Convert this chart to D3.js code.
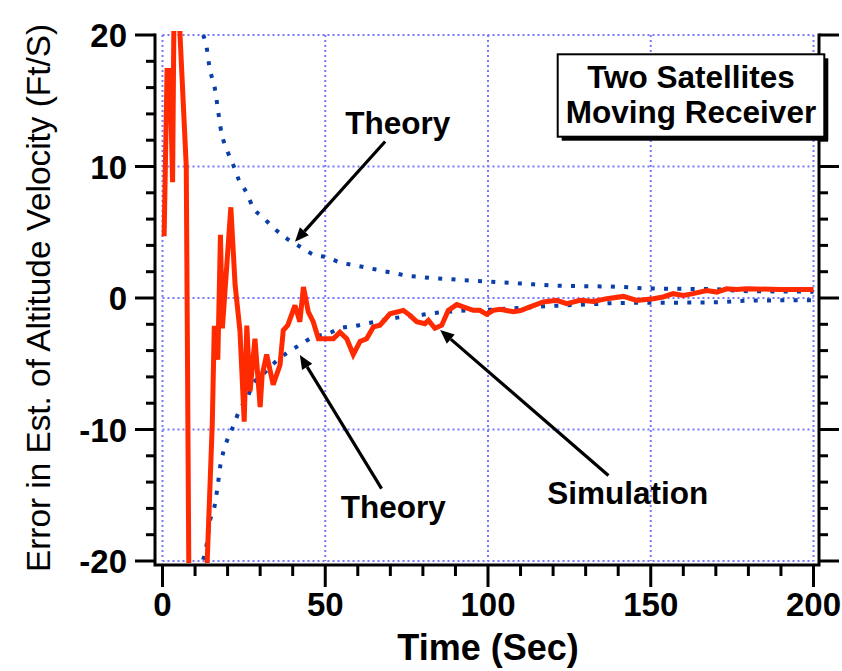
<!DOCTYPE html>
<html>
<head>
<meta charset="utf-8">
<script src="https://cdn.jsdelivr.net/npm/d3@7/dist/d3.min.js"></script>
<style>
  html, body { margin: 0; padding: 0; background: #fff; }
  svg { display: block; font-family: "Liberation Sans", Arial, Helvetica, sans-serif; }
</style>
</head>
<body>
<svg id="chart" width="842" height="671"></svg>
<script>
// ---- data ----------------------------------------------------------------
// Theoretical error envelope (upper and lower bounds), ft/s
const theoryTime  = [12.5, 13.6, 14.4, 16.1, 17.0, 17.8, 18.7, 20.2, 22.0, 23.5, 26.0, 27.7, 30.9, 34.2,
                     38.3, 42.3, 46.4, 50.5, 54.6, 58.7, 62.8, 66.9, 71.0, 75.1, 79.2, 83.3, 90, 100,
                     110, 120, 130, 140, 150, 160, 170, 180, 190, 200];
const theoryUpper = [20.0, 19.0, 17.6, 15.9, 14.4, 13.0, 12.0, 11.0, 9.95, 8.95, 7.94, 6.93, 6.13, 5.32,
                     4.5, 3.9, 3.3, 3.1, 2.7, 2.5, 2.3, 2.1, 1.9, 1.7, 1.6, 1.5, 1.4, 1.25,
                     1.1, 0.95, 0.9, 0.85, 0.72, 0.7, 0.66, 0.52, 0.5, 0.48];
const theoryLower = [-19.9, -18.7, -17.2, -15.7, -14.2, -12.7, -11.7, -10.6, -9.6, -8.6, -7.6, -6.6, -5.8, -4.97,
                     -4.16, -3.56, -2.95, -2.75, -2.3, -2.15, -1.94, -1.74, -1.54, -1.4, -1.3, -1.15, -1.0, -0.9,
                     -0.75, -0.6, -0.5, -0.38, -0.36, -0.35, -0.33, -0.2, -0.18, -0.17];

// Simulated estimation error, ft/s
const simTime  = [0.5, 1.4, 2.3, 3.1, 3.8, 5.0, 7.3, 8.2, 13.0, 15.3, 15.9, 16.7, 17.0, 17.8, 18.4,
                  21.0, 22.3, 23.8, 25.1, 25.9, 26.9, 28.4, 30.0, 30.6, 32.0, 34.0, 36.1, 37.1, 38.5,
                  40.7, 42.2, 43.3, 44.8, 46.3, 47.9, 52.5, 54.5, 56.6, 58.6, 60.7, 62.7, 64.8, 66.8,
                  69.9, 74.0, 76.0, 78.1, 80.6, 81.7, 83.7, 85.8, 87.8, 90.4, 92.4, 95.5, 97.5, 99.6,
                  101.6, 103.7, 107.8, 110.0, 112.9, 117.0, 121.1, 124.2, 128.3, 132.4, 136.5, 141.6,
                  145.7, 150.8, 153.8, 156.9, 160.0, 163.0, 167.2, 170.3, 173.3, 176.4, 179.5, 189.7, 200];
const simValue = [4.7, 17.3, 17.3, 8.8, 30, 22, 10, -25, -25, -9.5, -2.3, -2.3, -4.7, 4.8, -2.3,
                  6.9, 1.0, -2.5, -9.4, -2.1, -7.1, -3.1, -8.3, -5.9, -4.3, -6.6, -5.1, -2.45, -2.07,
                  -0.56, -1.8, 0.83, -1.06, -1.8, -3.1, -3.1, -2.6, -3.1, -4.3, -3.3, -3.1, -2.2, -2.07,
                  -1.2, -0.94, -1.32, -1.8, -1.95, -1.7, -2.3, -2.07, -0.94, -0.5, -0.68, -0.94, -0.94, -1.25,
                  -0.94, -0.85, -1.05, -0.95, -0.68, -0.3, -0.18, -0.43, -0.18, -0.26, -0.05, 0.12,
                  -0.18, -0.05, 0.08, 0.33, 0.2, 0.33, 0.57, 0.45, 0.7, 0.65, 0.7, 0.65, 0.65];

// Axis ticks
const xMajorTicks = [0, 50, 100, 150, 200];
const xMinorTicks = d3.range(0, 201, 10);
const yMajorTicks = [-20, -10, 0, 10, 20];
const yMinorTicks = d3.range(-20, 21, 2);

// Annotation text
const xTitle = "Time (Sec)";
const yTitle = "Error in Est. of Altitude Velocity (Ft/S)";
const boxLines = ["Two Satellites", "Moving Receiver"];

// ---- layout --------------------------------------------------------------
const svg = d3.select("#chart");
const x = d3.scaleLinear().domain([0, 200]).range([162.5, 813.5]);
const y = d3.scaleLinear().domain([-20, 20]).range([561, 35]);

const axisLeftX = 155, axisRightX = 819, axisBottomY = 565, axisTopY = 35;
const gridColor = "#7878ff";
const theoryColor = "#0a3ea8";
const simColor = "#ff2a00";

// clip for the data
svg.append("defs").append("clipPath").attr("id", "plotClip")
  .append("rect").attr("x", axisLeftX).attr("y", 31).attr("width", axisRightX - axisLeftX).attr("height", 532);

// ---- grid ----------------------------------------------------------------
const grid = svg.append("g").attr("stroke", gridColor).attr("stroke-width", 2)
  .attr("stroke-dasharray", "2,3").attr("fill", "none");
grid.selectAll("line.v").data(xMajorTicks).join("line").attr("class", "v")
  .attr("x1", d => x(d)).attr("x2", d => x(d)).attr("y1", y(20)).attr("y2", y(-20));
grid.selectAll("line.h").data(yMajorTicks).join("line").attr("class", "h")
  .attr("x1", x(0)).attr("x2", x(200)).attr("y1", d => y(d)).attr("y2", d => y(d));

// ---- axes ----------------------------------------------------------------
const axes = svg.append("g").attr("stroke", "#000").attr("stroke-width", 3).attr("fill", "none");
axes.append("path").attr("d", `M${axisLeftX},${axisTopY}V${axisBottomY}H${axisRightX}V${axisTopY}`)
  .attr("stroke-linejoin", "miter").attr("stroke-linecap", "square");
// left ticks
axes.selectAll("line.yl").data(yMinorTicks).join("line").attr("class", "yl")
  .attr("x1", d => axisLeftX - (d % 10 === 0 ? 20 : 9)).attr("x2", axisLeftX)
  .attr("y1", d => y(d)).attr("y2", d => y(d));
// right ticks
axes.selectAll("line.yr").data(yMinorTicks).join("line").attr("class", "yr")
  .attr("x1", axisRightX).attr("x2", d => axisRightX + (d % 10 === 0 ? 20 : 9))
  .attr("y1", d => y(d)).attr("y2", d => y(d));
// bottom ticks
axes.selectAll("line.xb").data(xMinorTicks).join("line").attr("class", "xb")
  .attr("x1", d => x(d)).attr("x2", d => x(d))
  .attr("y1", axisBottomY).attr("y2", d => axisBottomY + (d % 50 === 0 ? 22 : 11));

// tick labels
svg.append("g").selectAll("text").data(xMajorTicks).join("text")
  .attr("x", d => x(d)).attr("y", 616).attr("text-anchor", "middle")
  .attr("font-size", 33).attr("font-weight", "bold").text(d => d);
svg.append("g").selectAll("text").data(yMajorTicks).join("text")
  .attr("x", 127).attr("y", d => y(d) + 12).attr("text-anchor", "end")
  .attr("font-size", 33).attr("font-weight", "bold").text(d => d);

// axis titles
svg.append("text").attr("x", x(100)).attr("y", 660).attr("text-anchor", "middle")
  .attr("font-size", 36).attr("font-weight", "bold").text(xTitle);
svg.append("text").attr("transform", `translate(50,${y(0)}) rotate(-90)`).attr("text-anchor", "middle")
  .attr("font-size", 34).attr("textLength", 548).attr("lengthAdjust", "spacingAndGlyphs")
  .text(yTitle);

// ---- data layers -----------------------------------------------------------
const plot = svg.append("g").attr("clip-path", "url(#plotClip)");

const theoryLine = (vals) => d3.line().x((d, i) => x(theoryTime[i])).y(d => y(d)).curve(d3.curveMonotoneX)(vals);
plot.selectAll("path.theory").data([theoryUpper, theoryLower]).join("path").attr("class", "theory")
  .attr("d", d => theoryLine(d)).attr("fill", "none").attr("stroke", theoryColor)
  .attr("stroke-width", 4).attr("stroke-dasharray", "4,9.3");

const simLine = d3.line().x((d, i) => x(simTime[i])).y(d => y(d));
plot.append("path").attr("d", simLine(simValue)).attr("fill", "none")
  .attr("stroke", simColor).attr("stroke-width", 5).attr("stroke-linejoin", "miter").attr("stroke-miterlimit", 3);

// ---- annotations -----------------------------------------------------------
function arrow(t0, v0, t1, v1) {
  const x0 = x(t0), y0 = y(v0), x1 = x(t1), y1 = y(v1);
  const ang = Math.atan2(y1 - y0, x1 - x0);
  const len = 14, hw = 6;
  const bx = x1 - len * Math.cos(ang), by = y1 - len * Math.sin(ang);
  svg.append("line").attr("x1", x0).attr("y1", y0).attr("x2", bx).attr("y2", by)
    .attr("stroke", "#000").attr("stroke-width", 3.2);
  svg.append("path")
    .attr("d", `M${x1},${y1}L${bx + hw * Math.sin(ang)},${by - hw * Math.cos(ang)}L${bx - hw * Math.sin(ang)},${by + hw * Math.cos(ang)}Z`)
    .attr("fill", "#000");
}
function label(t, v, str) {
  svg.append("text").attr("x", x(t)).attr("y", y(v)).attr("text-anchor", "middle")
    .attr("font-size", 31.5).attr("font-weight", "bold").text(str);
}

label(72.3, 12.5, "Theory");
arrow(68.4, 11.9, 40.7, 4.28);
label(70.9, -16.7, "Theory");
arrow(67.3, -14.5, 42.2, -4.33);
label(142.9, -15.7, "Simulation");
arrow(137, -13.5, 85.3, -2.43);

// title box with drop shadow
const box = svg.append("g");
const bx0 = 557.7, by0 = 54.3, bw = 266.6, bh = 82.4;
box.append("rect").attr("x", bx0 + 4).attr("y", by0 + 4).attr("width", bw).attr("height", bh).attr("fill", "#000");
box.append("rect").attr("x", bx0).attr("y", by0).attr("width", bw).attr("height", bh)
  .attr("fill", "#fff").attr("stroke", "#000").attr("stroke-width", 2);
box.selectAll("text").data(boxLines).join("text")
  .attr("x", bx0 + bw / 2).attr("y", (d, i) => by0 + 34 + i * 34.4)
  .attr("text-anchor", "middle").attr("font-size", 31.5).attr("font-weight", "bold").text(d => d);
</script>
</body>
</html>
